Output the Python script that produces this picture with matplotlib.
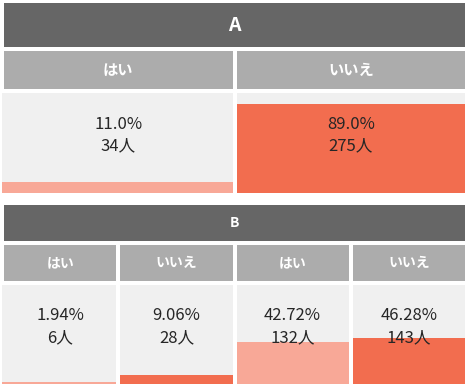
import matplotlib.pyplot as plt
from matplotlib.patches import Rectangle

plt.rcParams['font.family'] = ['Noto Sans CJK JP', 'DejaVu Sans']

# データ
a_title = 'A'
a_labels = ['はい', 'いいえ']
a_pct = [11.0, 89.0]
a_n = [34, 275]

b_title = 'B'
b_labels = ['はい', 'いいえ', 'はい', 'いいえ']
b_pct = [1.94, 9.06, 42.72, 46.28]
b_n = [6, 28, 132, 143]

col_title = '#666666'
col_head = '#acacac'
col_body = '#f0f0f0'
col_yes = '#f8a897'
col_no = '#f26d4f'
col_text = '#262626'

fig = plt.figure(figsize=(4.7, 3.89), dpi=100)
ax = fig.add_axes([0, 0, 1, 1])
ax.set_xlim(0, 470)
ax.set_ylim(389, 0)
ax.axis('off')


def section(title, labels, pct, n, y0, title_h, head_h, body_h, title_fs, head_fs):
    # タイトル
    ax.add_patch(Rectangle((4, y0), 461, title_h, color=col_title, lw=0))
    ax.text(234.5, y0 + title_h / 2, title, color='white', fontsize=title_fs,
            fontweight='bold', ha='center', va='center')
    k = len(labels)
    gap = 4
    w = (461 - gap * (k - 1)) / k
    lefts = [4 + i * (w + gap) for i in range(k)]
    hy = y0 + title_h + 4
    by = hy + head_h + 4
    for i, lab in enumerate(labels):
        x = lefts[i]
        ax.add_patch(Rectangle((x, hy), w, head_h, color=col_head, lw=0))
        ax.text(x + w / 2, hy + head_h / 2, lab, color='white', fontsize=head_fs,
                fontweight='bold', ha='center', va='center')
        bx = 2 if i == 0 else x
        bw = w + (x - bx)
        ax.add_patch(Rectangle((bx, by), bw, body_h, color=col_body, lw=0))
    # 割合バー
    bottoms = by + body_h
    heights = [p / 100 * body_h for p in pct]
    colors = [col_yes if lab == 'はい' else col_no for lab in labels]
    xs = [2] + lefts[1:]
    ws = [w + lefts[0] - 2] + [w] * (k - 1)
    ax.bar(xs, [-h for h in heights], width=ws, bottom=bottoms, align='edge',
           color=colors, lw=0)
    for i in range(k):
        cx = lefts[i] + w / 2
        ax.text(cx, by + 31, f'{pct[i]}%', color=col_text, fontsize=12,
                ha='center', va='center')
        ax.text(cx, by + 53, f'{n[i]}人', color=col_text, fontsize=12,
                ha='center', va='center')


section(a_title, a_labels, a_pct, a_n, 3, 44, 38, 100, 14, 11)
section(b_title, b_labels, b_pct, b_n, 205, 36, 36, 99, 10, 10)

fig.savefig('out.png', dpi=100)
